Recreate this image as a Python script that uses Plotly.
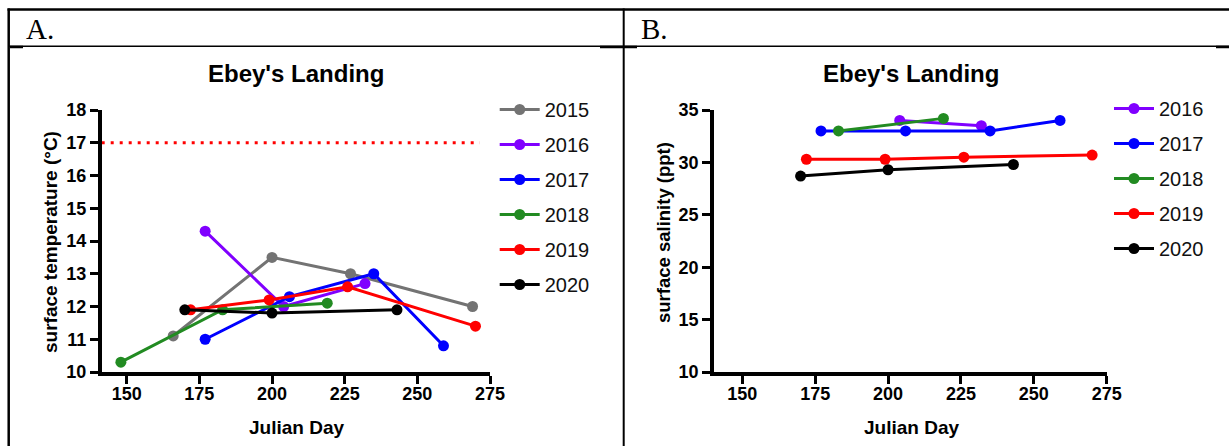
import plotly.graph_objects as go

W, H = 1229, 446

# ---------------- data ----------------
YEARS_A = ["2015", "2016", "2017", "2018", "2019", "2020"]
YEARS_B = ["2016", "2017", "2018", "2019", "2020"]
COLORS = {"2015": "#737373", "2016": "#8000FF", "2017": "#0000FF",
          "2018": "#228B22", "2019": "#FF0000", "2020": "#000000"}

# Panel A: surface temperature (°C) by Julian day
temp_days_2015 = [166, 200, 227, 269]
temp_vals_2015 = [11.1, 13.5, 13.0, 12.0]
temp_days_2016 = [177, 204, 232]
temp_vals_2016 = [14.3, 12.0, 12.7]
temp_days_2017 = [177, 206, 235, 259]
temp_vals_2017 = [11.0, 12.3, 13.0, 10.8]
temp_days_2018 = [148, 183, 219]
temp_vals_2018 = [10.3, 11.9, 12.1]
temp_days_2019 = [172, 199, 226, 270]
temp_vals_2019 = [11.9, 12.2, 12.6, 11.4]
temp_days_2020 = [170, 200, 243]
temp_vals_2020 = [11.9, 11.8, 11.9]

threshold_days = [141.4, 271.5]
threshold_temp = [17, 17]

# Panel B: surface salinity (ppt) by Julian day
sal_days_2016 = [204, 232]
sal_vals_2016 = [34.0, 33.5]
sal_days_2017 = [177, 206, 235, 259]
sal_vals_2017 = [33.0, 33.0, 33.0, 34.0]
sal_days_2018 = [183, 219]
sal_vals_2018 = [33.0, 34.2]
sal_days_2019 = [172, 199, 226, 270]
sal_vals_2019 = [30.3, 30.3, 30.5, 30.7]
sal_days_2020 = [170, 200, 243]
sal_vals_2020 = [28.7, 29.3, 29.8]

x_ticks = [150, 175, 200, 225, 250, 275]
temp_ticks = [10, 11, 12, 13, 14, 15, 16, 17, 18]
sal_ticks = [10, 15, 20, 25, 30, 35]

TEMP = {"2015": (temp_days_2015, temp_vals_2015), "2016": (temp_days_2016, temp_vals_2016),
        "2017": (temp_days_2017, temp_vals_2017), "2018": (temp_days_2018, temp_vals_2018),
        "2019": (temp_days_2019, temp_vals_2019), "2020": (temp_days_2020, temp_vals_2020)}
SAL = {"2016": (sal_days_2016, sal_vals_2016), "2017": (sal_days_2017, sal_vals_2017),
       "2018": (sal_days_2018, sal_vals_2018), "2019": (sal_days_2019, sal_vals_2019),
       "2020": (sal_days_2020, sal_vals_2020)}

# ---------------- helpers ----------------
def px_x(p):
    return p / W

def px_y(p):
    return 1 - p / H

FONT = "Liberation Sans, Arial, sans-serif"
SERIF = "Liberation Serif, Times New Roman, serif"

fig = go.Figure()

for yr in YEARS_A:
    d, v = TEMP[yr]
    fig.add_trace(go.Scatter(
        x=d, y=v, mode="lines+markers", name=yr, legend="legend",
        legendgroup="a" + yr,
        line=dict(color=COLORS[yr], width=3),
        marker=dict(color=COLORS[yr], size=11),
        xaxis="x", yaxis="y"))

fig.add_trace(go.Scatter(
    x=threshold_days, y=threshold_temp, mode="lines", showlegend=False,
    line=dict(color="#FF0000", width=3, dash="3px,6px"), xaxis="x", yaxis="y"))

for yr in YEARS_B:
    d, v = SAL[yr]
    fig.add_trace(go.Scatter(
        x=d, y=v, mode="lines+markers", name=yr, legend="legend2",
        legendgroup="b" + yr,
        line=dict(color=COLORS[yr], width=3),
        marker=dict(color=COLORS[yr], size=11),
        xaxis="x2", yaxis="y2"))

axis_common = dict(
    showline=True, linecolor="black", linewidth=3.5, mirror=False,
    ticks="outside", ticklen=8, tickwidth=3, tickcolor="black",
    showgrid=False, zeroline=False, automargin=False,
    tickfont=dict(family=FONT, size=18, color="black", weight="bold"),
    fixedrange=True,
)

legend_common = dict(xanchor="left", yanchor="top",
                     font=dict(family=FONT, size=20, color="#111111"),
                     tracegroupgap=6, bgcolor="rgba(0,0,0,0)", itemwidth=40)

fig.update_layout(
    width=W, height=H, autosize=False,
    margin=dict(l=0, r=0, t=0, b=0, pad=0),
    paper_bgcolor="white", plot_bgcolor="white",
    xaxis=dict(domain=[px_x(101.7), px_x(490)], range=[141.4, 275],
               tickvals=x_ticks, anchor="y", ticklabelstandoff=-5, **axis_common),
    yaxis=dict(domain=[px_y(372), px_y(110)], range=[10, 18],
               tickvals=temp_ticks, anchor="x", **axis_common),
    xaxis2=dict(domain=[px_x(714), px_x(1106.7)], range=[140.3, 275],
                tickvals=x_ticks, anchor="y2", ticklabelstandoff=-5, **axis_common),
    yaxis2=dict(domain=[px_y(372), px_y(110)], range=[10, 35],
                tickvals=sal_ticks, anchor="x2", **axis_common),
    legend=dict(x=px_x(494.7), y=px_y(90), **legend_common),
    legend2=dict(x=px_x(1109), y=px_y(89), **legend_common),
    showlegend=True,
)

def text(t, xp, yp, size, family=FONT, bold=True, angle=0, xanchor="center"):
    return dict(text=t, x=px_x(xp), y=px_y(yp), xref="paper", yref="paper",
                xanchor=xanchor, yanchor="middle", showarrow=False, textangle=angle,
                font=dict(family=family, size=size, color="black",
                          weight="bold" if bold else "normal"))

ann = [
    text("Ebey's Landing", 296, 73, 24),
    text("Ebey's Landing", 911, 73, 24),
    text("surface temperature (°C)", 50, 242, 19, angle=-90),
    text("surface salinity (ppt)", 664, 232, 18.5, angle=-90),
    text("Julian Day", 296, 427, 19),
    text("Julian Day", 911, 427, 19),
    text("A.", 24, 29, 29, family=SERIF, bold=False, xanchor="left"),
    text("B.", 639, 29, 29, family=SERIF, bold=False, xanchor="left"),
]
fig.update_layout(annotations=ann)

# table frame
shapes = []
def line(x0, y0, x1, y1, w):
    shapes.append(dict(type="line", xref="paper", yref="paper",
                       x0=px_x(x0), y0=px_y(y0), x1=px_x(x1), y1=px_y(y1),
                       line=dict(color="black", width=w)))
line(7.5, 9.5, 1229, 9.5, 2.5)      # top border
line(8.7, 8.5, 8.7, 446, 2.5)       # left border
line(623.7, 8.5, 623.7, 446, 2)     # middle divider
line(8.7, 46.3, 1229, 46.3, 1.5)    # header separator
line(10, 47, 23, 47, 2.5)
line(600, 47, 637, 47, 2.5)
line(1216, 47, 1229, 47, 2.5)
fig.update_layout(shapes=shapes)

post = ("document.documentElement.style.margin='0';document.documentElement.style.padding='0';"
        "document.documentElement.style.overflow='hidden';"
        "document.body.style.margin='0';document.body.style.padding='0';"
        "document.body.style.overflow='hidden';"
        "var gd=document.getElementById('{plot_id}');"
        "gd.style.position='absolute';gd.style.left='0px';gd.style.top='0px';")

fig.write_html("out.html", post_script=post, config={"displayModeBar": False})
